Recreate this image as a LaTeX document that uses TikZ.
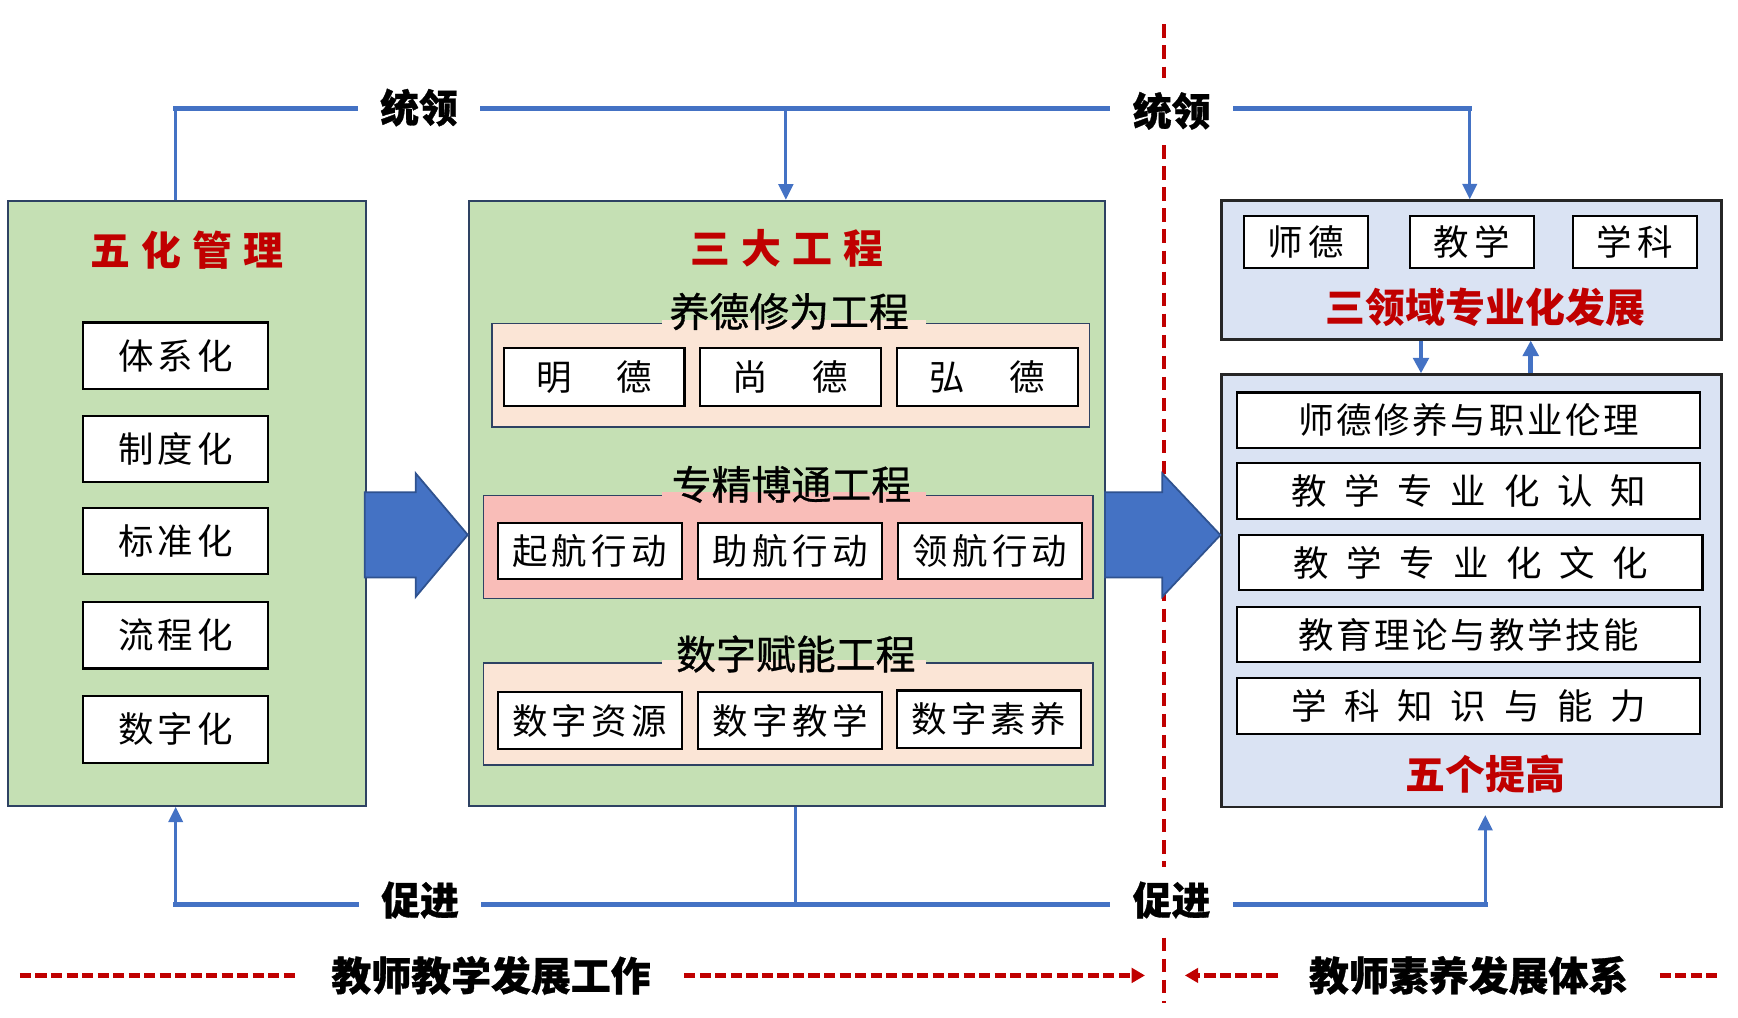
\documentclass[tikz,border=0pt]{standalone}
\usepackage{fontspec}
\newfontfamily\cjk{Noto Sans CJK SC}
\newfontfamily\cjkh[FakeBold=0.8]{Noto Sans CJK SC}
\newfontfamily\cjkblk[BoldFeatures={FakeBold=0.8}]{Noto Sans CJK SC}
\usetikzlibrary{arrows.meta}
\definecolor{grn}{HTML}{C5E0B4}
\definecolor{peach}{HTML}{FBE5D6}
\definecolor{pinkg}{HTML}{F9BDB8}
\definecolor{lblue}{HTML}{DAE3F3}
\definecolor{navy}{HTML}{2E4263}
\definecolor{lineblue}{HTML}{4472C4}
\definecolor{arrnavy}{HTML}{2F528F}
\definecolor{myred}{HTML}{C00000}
\begin{document}
\begin{tikzpicture}[x=0.5pt,y=-0.5pt,
  font=\cjk,
  bigbox/.style={draw=navy,line width=0.8pt,fill=grn,inner sep=0pt},
  grp/.style={draw=navy,line width=0.7pt,inner sep=0pt},
  wbox/.style={draw=black,line width=1pt,fill=white,inner sep=0pt,font=\cjk\fontsize{16pt}{16pt}\selectfont},
  bluebox/.style={draw=black!85,line width=1.2pt,fill=lblue,inner sep=0pt},
  ttl/.style={text=myred,font=\cjk\bfseries\fontsize{18pt}{18pt}\selectfont,inner sep=0pt},
  head/.style={font=\cjkh\fontsize{18pt}{18pt}\selectfont,inner sep=0pt},
  lbl/.style={font=\cjkblk\bfseries\fontsize{17.5pt}{17.5pt}\selectfont,inner xsep=11pt,inner ysep=0pt},
  blbl/.style={font=\cjkblk\bfseries\fontsize{18pt}{18pt}\selectfont,inner xsep=15pt,inner ysep=0pt},
  conn/.style={draw=lineblue,line width=1.4pt},
  hconn/.style={draw=lineblue,line width=2.2pt,line cap=rect},
  tip/.style={-{Triangle[length=7pt,width=6.5pt]}},
  vdash/.style={draw=myred,line width=1.8pt,dash pattern=on 6pt off 3.5pt},
  rdash/.style={draw=myred,line width=2.2pt,dash pattern=on 5pt off 2pt},
  rtip/.style={-{Triangle[length=6pt,width=6.5pt]}},
  bigarrow/.style={draw=arrnavy,fill=lineblue,line width=0.8pt,line join=miter}
]
\useasboundingbox (0,0) rectangle (1568,918);

% ---------- left box ----------
\node[bigbox,minimum width=161.5pt,minimum height=273pt] (L) at (168.5,454) {};
\node[ttl] (Lt) at (169,226) {五\hspace{5pt}化\hspace{5pt}管\hspace{5pt}理};
\node[wbox,minimum width=83.5pt,minimum height=30pt] (l1) at (158.5,321) {体\hspace{2pt}系\hspace{2pt}化};
\node[wbox,minimum width=83.5pt,minimum height=30pt] (l2) at (158.5,405) {制\hspace{2pt}度\hspace{2pt}化};
\node[wbox,minimum width=83.5pt,minimum height=30pt] (l3) at (158.5,488) {标\hspace{2pt}准\hspace{2pt}化};
\node[wbox,minimum width=83.5pt,minimum height=30pt] (l4) at (158.5,573) {流\hspace{2pt}程\hspace{2pt}化};
\node[wbox,minimum width=83.5pt,minimum height=30pt] (l5) at (158.5,658) {数\hspace{2pt}字\hspace{2pt}化};

% ---------- middle box ----------
\node[bigbox,minimum width=287pt,minimum height=273pt] (M) at (710,454) {};
\node[ttl] (Mt) at (710,224) {三\hspace{5pt}大\hspace{5pt}工\hspace{5pt}程};

\node[grp,fill=peach,minimum width=269.5pt,minimum height=46.5pt] (G1) at (713.5,338.5) {};
\fill[peach] (597,289) rectangle (835,294.5);
\node[head] (H1) at (712,281) {养德修为工程};
\node[wbox,minimum width=81.5pt,minimum height=26pt] (a1) at (536,340) {明\hspace{20pt}德};
\node[wbox,minimum width=81.5pt,minimum height=26pt] (a2) at (713,340) {尚\hspace{20pt}德};
\node[wbox,minimum width=81.5pt,minimum height=26pt] (a3) at (891,340) {弘\hspace{20pt}德};

\node[grp,fill=pinkg,minimum width=275pt,minimum height=46.5pt] (G2) at (711,493.5) {};
\fill[pinkg] (597,444) rectangle (835,449.5);
\node[head] (H2) at (714,437) {专精博通工程};
\node[wbox,minimum width=83pt,minimum height=25.5pt] (b1) at (532,497) {起\hspace{2pt}航\hspace{2pt}行\hspace{2pt}动};
\node[wbox,minimum width=83pt,minimum height=25.5pt] (b2) at (713,497) {助\hspace{2pt}航\hspace{2pt}行\hspace{2pt}动};
\node[wbox,minimum width=83pt,minimum height=25.5pt] (b3) at (893,497) {领\hspace{2pt}航\hspace{2pt}行\hspace{2pt}动};

\node[grp,fill=peach,minimum width=275pt,minimum height=46pt] (G3) at (711,644) {};
\fill[peach] (597,595) rectangle (835,600.5);
\node[head] (H3) at (718,590) {数字赋能工程};
\node[wbox,minimum width=83pt,minimum height=26pt] (c1) at (532,650) {数\hspace{2pt}字\hspace{2pt}资\hspace{2pt}源};
\node[wbox,minimum width=83pt,minimum height=26pt] (c2) at (713,650) {数\hspace{2pt}字\hspace{2pt}教\hspace{2pt}学};
\node[wbox,minimum width=83pt,minimum height=26pt] (c3) at (892,649) {数\hspace{2pt}字\hspace{2pt}素\hspace{2pt}养};

% ---------- right boxes ----------
\node[bluebox,minimum width=225.5pt,minimum height=62.5pt] (RT) at (1327.5,243.5) {};
\node[wbox,minimum width=56pt,minimum height=23.5pt] (r1) at (1178,218.5) {师\hspace{2.5pt}德};
\node[wbox,minimum width=56pt,minimum height=23.5pt] (r2) at (1328,218.5) {教\hspace{2.5pt}学};
\node[wbox,minimum width=56pt,minimum height=23.5pt] (r3) at (1475,218.5) {学\hspace{2.5pt}科};
\node[ttl] (RTl) at (1340,277) {三领域专业化发展};

\node[bluebox,minimum width=225.5pt,minimum height=195pt] (RB) at (1327.5,533) {};
\node[wbox,minimum width=209pt,minimum height=25pt] (s1) at (1325,379) {师\hspace{1.2pt}德\hspace{1.2pt}修\hspace{1.2pt}养\hspace{1.2pt}与\hspace{1.2pt}职\hspace{1.2pt}业\hspace{1.2pt}伦\hspace{1.2pt}理};
\node[wbox,minimum width=209pt,minimum height=25pt] (s2) at (1325,443) {教\hspace{8pt}学\hspace{8pt}专\hspace{8pt}业\hspace{8pt}化\hspace{8pt}认\hspace{8pt}知};
\node[wbox,minimum width=209pt,minimum height=25pt] (s3) at (1327,507.5) {教\hspace{8pt}学\hspace{8pt}专\hspace{8pt}业\hspace{8pt}化\hspace{8pt}文\hspace{8pt}化};
\node[wbox,minimum width=209pt,minimum height=25pt] (s4) at (1325,572.5) {教\hspace{1.2pt}育\hspace{1.2pt}理\hspace{1.2pt}论\hspace{1.2pt}与\hspace{1.2pt}教\hspace{1.2pt}学\hspace{1.2pt}技\hspace{1.2pt}能};
\node[wbox,minimum width=209pt,minimum height=25pt] (s5) at (1325,637) {学\hspace{8pt}科\hspace{8pt}知\hspace{8pt}识\hspace{8pt}与\hspace{8pt}能\hspace{8pt}力};
\node[ttl] (RBl) at (1340,698) {五个提高};

\coordinate (dA) at (1282,0);
\coordinate (uA) at (1381,0);
\draw[draw=lineblue,line width=2.2pt,-{Triangle[length=7pt,width=7pt]}] (RT.south -| dA) -- (RB.north -| dA);
\draw[draw=lineblue,line width=2.2pt,-{Triangle[length=7pt,width=7pt]}] (RB.north -| uA) -- (RT.south -| uA);

% ---------- red vertical divider ----------
\draw[vdash] (1050,22) -- (1050,70);
\draw[vdash] (1050,131) -- (1050,782);
\draw[vdash] (1050,846) -- (1050,905);

% ---------- big arrows ----------
\draw[bigarrow] (329,444) -- (375,444) -- (375,427) -- (422,482.5) -- (375,538.5) -- (375,521) -- (329,521) -- cycle;
\draw[bigarrow] (997,444) -- (1048.5,444) -- (1048.5,427) -- (1101,482.7) -- (1048.5,538.5) -- (1048.5,521) -- (997,521) -- cycle;

% ---------- top connectors ----------
\coordinate (tl) at (158,98);
\coordinate (mx) at (709,0);
\coordinate (rx) at (1326,0);
\node[lbl] (T1) at (378,97) {统领};
\node[lbl] (T2) at (1057,100) {统领};
\draw[conn] (l1.center |- L.north) -- (l1.center |- tl);
\draw[hconn] (l1.center |- tl) -- (T1.west |- tl);
\draw[hconn] (T1.east |- tl) -- (T2.west |- tl);
\draw[hconn] (T2.east |- tl) -- (rx |- tl);
\draw[conn,tip] (mx |- tl) -- (mx |- M.north);
\draw[conn,tip] (rx |- tl) -- (rx |- RT.north);

% ---------- bottom connectors ----------
\coordinate (bl) at (158,816);
\coordinate (mb) at (718,0);
\node[lbl] (P1) at (379,812) {促进};
\node[lbl] (P2) at (1057,812) {促进};
\draw[conn,tip] (l5.center |- bl) -- (l5.center |- L.south);
\draw[hconn] (l5.center |- bl) -- (P1.west |- bl);
\draw[hconn] (P1.east |- bl) -- (P2.west |- bl);
\draw[hconn] (P2.east |- bl) -- (RBl.center |- bl);
\draw[conn] (mb |- M.south) -- (mb |- bl);
\draw[conn,tip,shorten >=3pt] (RBl.center |- bl) -- (RBl.center |- RB.south);

% ---------- bottom legend ----------
\node[blbl] (B1) at (443,880) {教师教学发展工作};
\node[blbl,inner xsep=14pt] (B2) at (1325,880) {教师素养发展体系};
\coordinate (e1) at (18,880);
\coordinate (e2) at (1033,880);
\coordinate (e3) at (1069,880);
\coordinate (e4) at (1553,880);
\draw[rdash] (e1) -- (B1.west |- e1);
\draw[rdash,rtip] (B1.east |- e1) -- (e2);
\draw[rdash,rtip] (B2.west |- e1) -- (e3);
\draw[rdash] (B2.east |- e1) -- (e4);
\end{tikzpicture}
\end{document}
